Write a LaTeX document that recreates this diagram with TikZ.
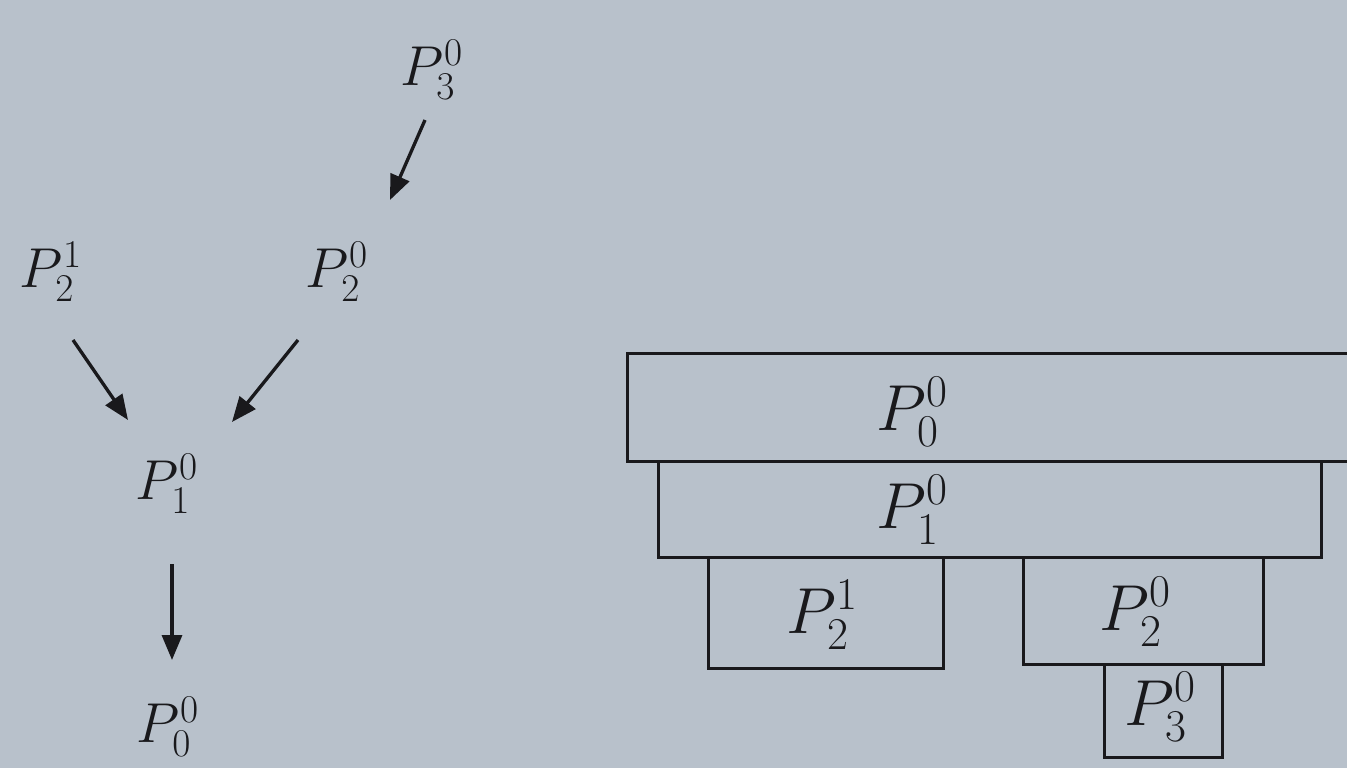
\RequirePackage{fix-cm}
\documentclass[tikz,border=0pt]{standalone}
\usetikzlibrary{arrows.meta,calc}
\definecolor{paper}{RGB}{184,193,203}
\definecolor{ink}{RGB}{25,25,28}
\begin{document}
\begin{tikzpicture}[x=0.02cm,y=-0.02cm,
  treelbl/.style={inner sep=0pt,text=ink,font=\fontsize{32}{38}\selectfont},
  boxlbl/.style={inner sep=0pt,text=ink,font=\fontsize{37}{44}\selectfont},
  arr/.style={draw=ink,line width=1.9pt,-{Triangle[length=0.5cm,width=0.4cm]}},
  blk/.style={draw=ink,line width=1.7pt,rectangle,inner sep=0pt,anchor=north west},
]
\fill[paper] (0,0) rectangle (1347,768);
\useasboundingbox (0,0) rectangle (1347,768);
\clip (0,0) rectangle (1347,768);

% ---- left tree ----
\node[treelbl] (p3)  at (432,70)  {$P_3^0$};
\node[treelbl] (p22) at (337,272) {$P_2^0$};
\node[treelbl] (p21) at (51,272)  {$P_2^1$};
\node[treelbl] (p1)  at (167,484) {$P_1^0$};
\node[treelbl] (p0)  at (168,727) {$P_0^0$};

\draw[arr] ($(p3)+(-7,50)$) -- ($(p22)+(53,-72)$);
\draw[arr] ($(p21)+(22,68)$) -- ($(p1)+(-39,-64)$);
\draw[arr] ($(p22)+(-39,68)$) -- ($(p1)+(65,-62)$);
\draw[arr] ($(p1)+(5,80)$) -- ($(p0)+(4,-67)$);

% ---- right blocks ----
\node[blk,minimum width=800*0.02cm,minimum height=108*0.02cm] (b0) at (626,352) {};
\node[blk,minimum width=663*0.02cm,minimum height=96*0.02cm]  (b1) at (657,460) {};
\node[blk,minimum width=235*0.02cm,minimum height=111*0.02cm] (b21) at (707,556) {};
\node[blk,minimum width=240*0.02cm,minimum height=107*0.02cm] (b22) at (1022,556) {};
\node[blk,minimum width=118*0.02cm,minimum height=93*0.02cm]  (b3) at (1103,663) {};

\node[boxlbl] (l0)  at (912,412)  {$P_0^0$};
\node[boxlbl] (l1)  at (912,510)  {$P_1^0$};
\node[boxlbl] (l21) at (822,615)  {$P_2^1$};
\node[boxlbl] (l22) at (1135,612) {$P_2^0$};
\node[boxlbl] (l3)  at (1160,707) {$P_3^0$};
\end{tikzpicture}
\end{document}
